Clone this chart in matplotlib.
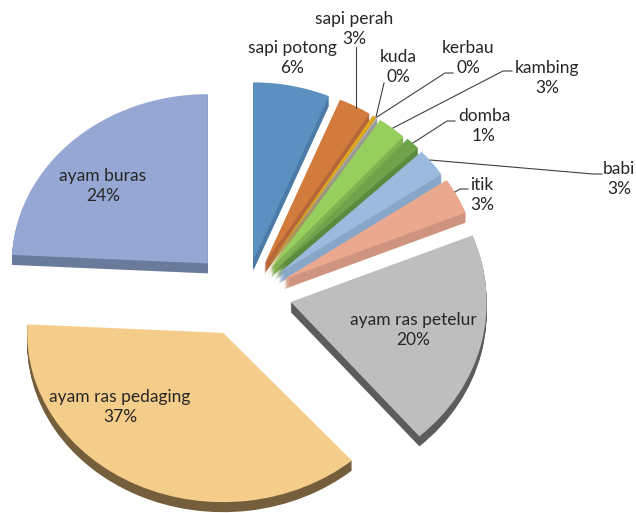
import matplotlib
matplotlib.use("Agg")
import numpy as np
import matplotlib.pyplot as plt
from matplotlib.transforms import Affine2D

names = ["sapi potong", "sapi perah", "kuda", "kerbau", "kambing", "domba",
         "babi", "itik", "ayam ras petelur", "ayam ras pedaging", "ayam buras"]
values = [6.3, 2.7, 0.3, 0.1, 2.4, 1.2, 2.6, 3.3, 19.7, 37.2, 24.2]
percent = ["6%", "3%", "0%", "0%", "3%", "1%", "3%", "3%", "20%", "37%", "24%"]

top_colors = ["#5b90c0", "#d27b3c", "#e0a81c", "#bcbcbc", "#97cf5e", "#6ea34c",
              "#9bbade", "#eaa98f", "#bebebe", "#f5cd8a", "#96a7d3"]
side_colors = ["#4b7ba6", "#b5673a", "#b98c18", "#999999", "#82b152", "#5a8a3e",
               "#88a6c8", "#cf947f", "#5c5c5c", "#755e3c", "#6a7a9b"]

# slice offsets, in pixels
explode = [42, 42, 42, 42, 42, 43, 43, 44, 47, 50, 54]
nudge_y = [0, 0, 0, 0, 0, 0, 0, 0, -6, -6, 1]
squash = [1, 1, 1, 1, 1, 1, 1, 1, 1, 0.95, 0.95]

W, H = 636, 513
tilt = 1.1
radius = 196
cx, cy = 245, 298
depth = 10

fig = plt.figure(figsize=(W / 100, H / 100), dpi=100)
ax = fig.add_axes([0, 0, 1, 1])


def draw_pie(colors, shift):
    wedges, _ = ax.pie(values, explode=explode, colors=colors, radius=radius,
                       startangle=90, counterclock=False,
                       center=(cx, (H - cy) * tilt), normalize=True,
                       frame=False, wedgeprops={"linewidth": 0})
    for w, dy, s in zip(wedges, nudge_y, squash):
        x0, y0 = w.center
        y0 = y0 - (dy + shift) * tilt
        w.set_center((x0, y0))
        w.set_transform(Affine2D().translate(0, -y0).scale(1, s).translate(0, y0) + ax.transData)


for d in range(depth, 0, -1):
    draw_pie(side_colors, d)
draw_pie(top_colors, 0)

ax.set_aspect("auto")
ax.set_xlim(0, W)
ax.set_ylim(0, H * tilt)
ax.axis("off")

# labels and leader lines work in image pixels
ov = fig.add_axes([0, 0, 1, 1])
ov.set_xlim(0, W)
ov.set_ylim(H, 0)
ov.axis("off")
ov.patch.set_alpha(0)

label_x = [292, 354, 398, 468, 547, 484, 619, 482, 413, 120, 103]
label_y = [58, 29, 67, 58, 78, 126, 179, 195, 330, 407, 186]
for n, p, x, y in zip(names, percent, label_x, label_y):
    ov.text(x, y, n + "\n" + p, ha="center", va="center", family="Lato",
            fontsize=12.5, color="#262626", linespacing=1.32)

leaders = [
    ([356, 356], [47, 108]),
    ([384, 376], [83, 117]),
    ([453, 445, 377], [73, 73, 117]),
    ([512, 503, 393], [71, 71, 128]),
    ([455, 447, 413], [121, 121, 143]),
    ([602, 593, 430], [174, 174, 160]),
    ([468, 460, 455], [189, 189, 192]),
]
for xs, ys in leaders:
    ov.plot(xs, ys, color="#404040", lw=0.8)

fig.savefig("out.png", dpi=100)
